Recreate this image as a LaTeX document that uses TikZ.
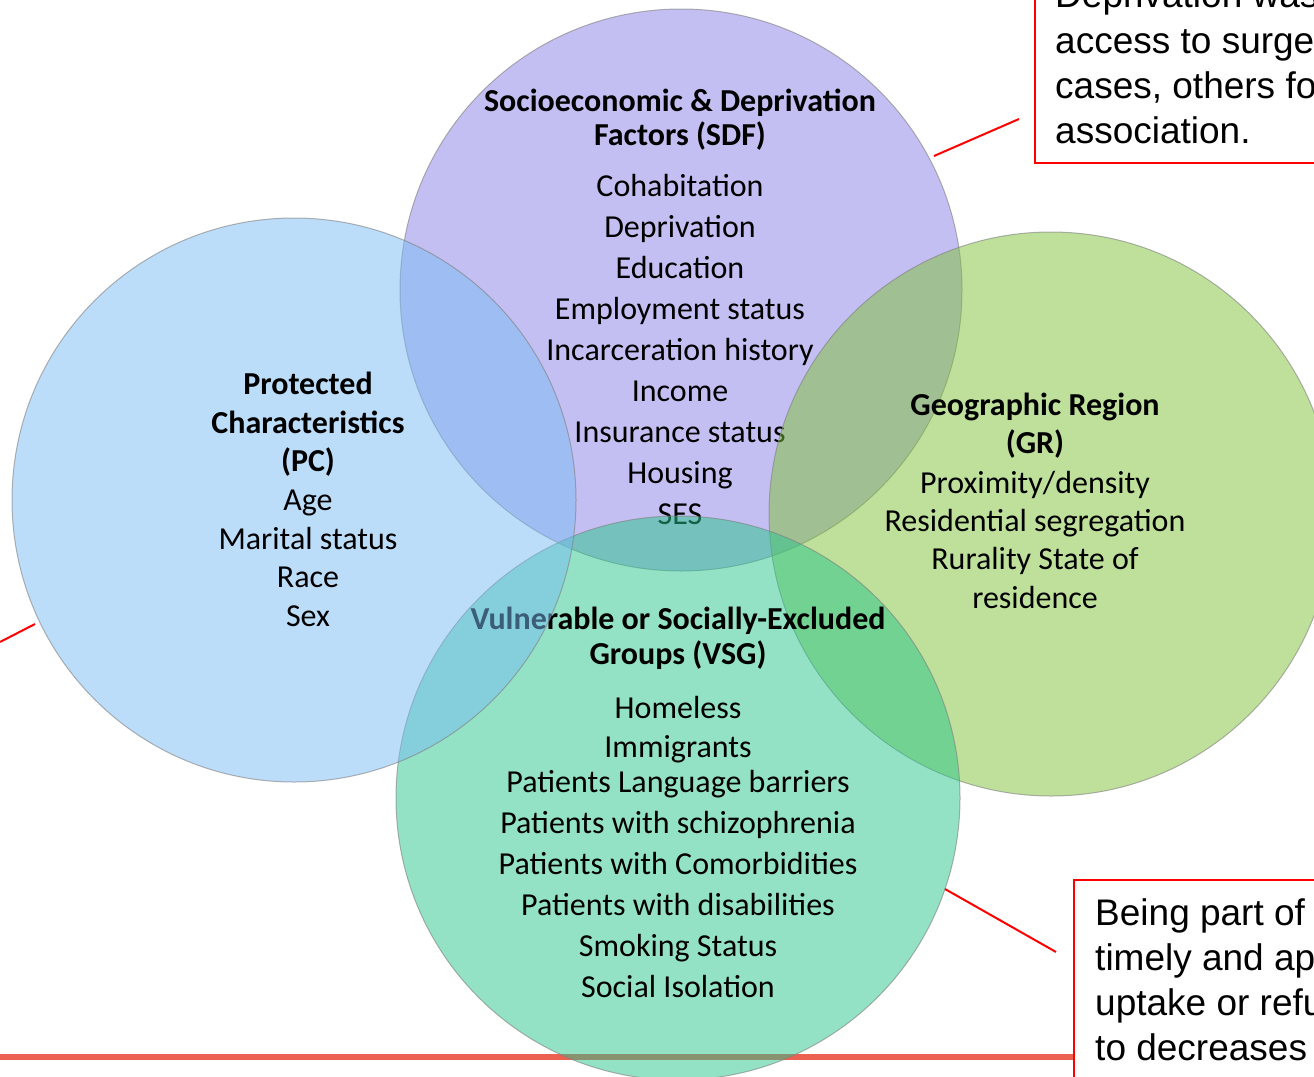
\documentclass[tikz,border=0pt]{standalone}
\usepackage{fontspec}
\setmainfont{Carlito}
\newfontfamily\notefont{Liberation Sans}

\definecolor{sdfpurple}{RGB}{137,127,229}
\definecolor{pcblue}{RGB}{121,187,243}
\definecolor{grgreen}{RGB}{125,193,53}
\definecolor{vsgteal}{RGB}{39,197,139}
\definecolor{rulered}{RGB}{236,96,82}

\begin{document}
\begin{tikzpicture}[x=1pt,y=-1pt,
  every node/.style={inner sep=0pt},
  ring/.style={draw=black!50,line width=1pt,draw opacity=0.6,fill opacity=0.5},
  head/.style={anchor=base,font=\fontsize{32}{38}\selectfont\bfseries},
  item/.style={anchor=base,font=\fontsize{32}{38}\selectfont},
  note/.style={anchor=base west,font=\notefont\fontsize{37}{45}\selectfont},
  callout/.style={draw=red,line width=2pt},
  lead/.style={draw=red,line width=2pt}]
\useasboundingbox (0,0) rectangle (1314,1076);
\clip (0,0) rectangle (1314,1076);

% red rule under the diagram
\coordinate (ruleL) at (0,1057);
\coordinate (ruleR) at (1074,1057);
\draw[rulered,line width=6pt] (ruleL) -- (ruleR);

% Socioeconomic & Deprivation Factors
\filldraw[ring,fill=sdfpurple] (681,290) circle (281);
\node[head]  (sdf1)  at (680,111) {Socioeconomic \& Deprivation};
\node[head]  (sdf2)  at (680,145) {Factors (SDF)};
\node[item]  (sdfa)  at (680,196) {Cohabitation};
\node[item]  (sdfb)  at (680,237) {Deprivation};
\node[item]  (sdfc)  at (680,278) {Education};
\node[item]  (sdfd)  at (680,319) {Employment status};
\node[item]  (sdfe)  at (680,360) {Incarceration history};
\node[item]  (sdff)  at (680,401) {Income};
\node[item]  (sdfg)  at (680,442) {Insurance status};
\node[item]  (sdfh)  at (680,483) {Housing};
\node[item]  (sdfi)  at (680,524) {SES};

% Geographic Region (circle only, text comes later)
\filldraw[ring,fill=grgreen] (1051,514) circle (282);

% Vulnerable or Socially-Excluded Groups
\filldraw[ring,fill=vsgteal] (678,798) circle (282);
\node[head]  (vsg1)  at (678,629) {Vulnerable or Socially-Excluded};
\node[head]  (vsg2)  at (678,664) {Groups (VSG)};
\node[item]  (vsga)  at (678,718) {Homeless};
\node[item]  (vsgb)  at (678,757) {Immigrants};
\node[item]  (vsgc)  at (678,792) {Patients Language barriers};
\node[item]  (vsgd)  at (678,833) {Patients with schizophrenia};
\node[item]  (vsge)  at (678,874) {Patients with Comorbidities};
\node[item]  (vsgf)  at (678,915) {Patients with disabilities};
\node[item]  (vsgg)  at (678,956) {Smoking Status};
\node[item]  (vsgh)  at (678,997) {Social Isolation};

% Protected Characteristics
\filldraw[ring,fill=pcblue] (294,500) circle (282);
\node[head]  (pc1)   at (308,394) {Protected};
\node[head]  (pc2)   at (308,433) {Characteristics};
\node[head]  (pc3)   at (308,471) {(PC)};
\node[item]  (pca)   at (308,510) {Age};
\node[item]  (pcb)   at (308,549) {Marital status};
\node[item]  (pcc)   at (308,587) {Race};
\node[item]  (pcd)   at (308,626) {Sex};

% Geographic Region text
\node[head]  (gr1)   at (1035,415) {Geographic Region};
\node[head]  (gr2)   at (1035,453) {(GR)};
\node[item]  (gra)   at (1035,493) {Proximity/density};
\node[item]  (grb)   at (1035,531) {Residential segregation};
\node[item]  (grc)   at (1035,569) {Rurality State of};
\node[item]  (grd)   at (1035,608) {residence};

% call-out boxes
\draw[callout] (1035,-20) rectangle (1340,163);
\node[note]  (top1)  at (1055,8)   {Deprivation was};
\node[note]  (top2)  at (1055,53)  {access to surge};
\node[note]  (top3)  at (1055,98)  {cases, others fo};
\node[note]  (top4)  at (1055,143) {association.};

\draw[callout] (1074,880) rectangle (1340,1100);
\node[note]  (bot1)  at (1095,925)  {Being part of};
\node[note]  (bot2)  at (1095,970)  {timely and ap};
\node[note]  (bot3)  at (1095,1015) {uptake or refu};
\node[note]  (bot4)  at (1095,1060) {to decreases};

% leader lines
\coordinate (sdfTip)  at (934,156);
\coordinate (topTip)  at (1019,119);
\coordinate (vsgTip)  at (945,889);
\coordinate (botTip)  at (1056,952);
\coordinate (pcTip)   at (35,624);
\coordinate (pcEnd)   at (0,642);
\draw[lead] (sdfTip) -- (topTip);
\draw[lead] (vsgTip) -- (botTip);
\draw[lead] (pcTip)  -- (pcEnd);
\end{tikzpicture}
\end{document}
